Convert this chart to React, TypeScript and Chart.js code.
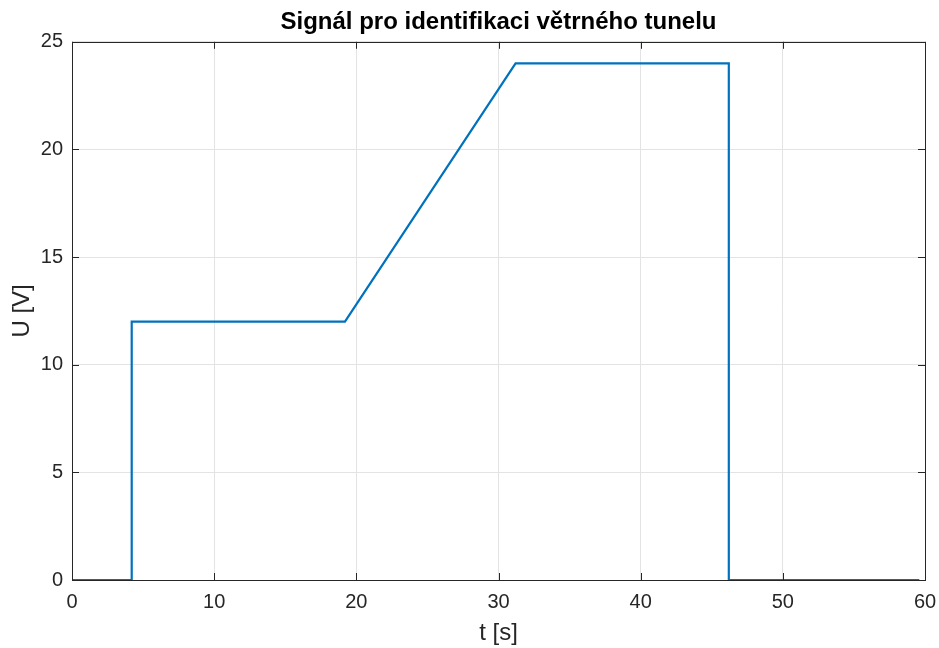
import React, { useEffect, useRef } from "react";
import { Chart, registerables } from "chart.js";

Chart.register(...registerables);

const TITLE = "Signál pro identifikaci větrného tunelu";
const X_LABEL = "t [s]";
const Y_LABEL = "U [V]";

// time (s) and voltage (V) of the signal breakpoints
const tValues = [0, 4.2, 4.2, 19.2, 31.2, 46.2, 46.2, 59.6];
const uValues = [0, 0, 12, 12, 24, 24, 0, 0];

const xTicks = [0, 10, 20, 30, 40, 50, 60];
const yTicks = [0, 5, 10, 15, 20, 25];

const AXIS_COLOR = "#262626";
const GRID_COLOR = "#e3e3e3";
const LINE_COLOR = "#0072BD";
const FONT = "'Liberation Sans', Arial, Helvetica, sans-serif";

const boxPlugin = {
  id: "matlabBox",
  afterDraw(chart: any) {
    const { ctx, chartArea } = chart;
    const { left, right, top, bottom } = chartArea;
    const xs = chart.scales.x;
    const ys = chart.scales.y;
    const tl = 7;
    ctx.save();
    ctx.strokeStyle = AXIS_COLOR;
    ctx.lineWidth = 1;
    ctx.beginPath();
    for (const v of xTicks) {
      const px = Math.round(xs.getPixelForValue(v)) + 0.5;
      ctx.moveTo(px, bottom);
      ctx.lineTo(px, bottom - tl);
      ctx.moveTo(px, top);
      ctx.lineTo(px, top + tl);
    }
    for (const v of yTicks) {
      const py = Math.round(ys.getPixelForValue(v)) + 0.5;
      ctx.moveTo(left, py);
      ctx.lineTo(left + tl, py);
      ctx.moveTo(right, py);
      ctx.lineTo(right - tl, py);
    }
    ctx.stroke();
    ctx.strokeRect(Math.round(left) + 0.5, Math.round(top) + 0.5, Math.round(right - left), Math.round(bottom - top));
    ctx.restore();
  },
};

export default function App() {
  const ref = useRef<HTMLCanvasElement | null>(null);

  useEffect(() => {
    if (!ref.current) return;
    const chart = new Chart(ref.current, {
      type: "line",
      data: {
        datasets: [
          {
            data: tValues.map((t, i) => ({ x: t, y: uValues[i] })),
            borderColor: LINE_COLOR,
            borderWidth: 2.2,
            pointRadius: 0,
            tension: 0,
            fill: false,
          },
        ],
      },
      options: {
        responsive: false,
        animation: false,
        layout: { padding: { left: 0, right: 14, top: 0, bottom: 0 } },
        plugins: {
          legend: { display: false },
          tooltip: { enabled: false },
          title: {
            display: true,
            text: TITLE,
            fullSize: false,
            color: "#000",
            font: { family: FONT, size: 24, weight: "bold", lineHeight: 1.2 },
            padding: { top: 8, bottom: 5 },
          },
        },
        scales: {
          x: {
            type: "linear",
            min: 0,
            max: 60,
            afterFit: (s: any) => {
              s.height = 68;
              s.paddingLeft = 0;
              s.paddingRight = 0;
            },
            afterBuildTicks: (s: any) => {
              s.ticks = xTicks.map((v) => ({ value: v }));
            },
            grid: { color: GRID_COLOR, drawTicks: false, lineWidth: 1 },
            border: { display: false },
            ticks: {
              color: AXIS_COLOR,
              font: { family: FONT, size: 20 },
              padding: 10,
              maxRotation: 0,
            },
            title: {
              display: true,
              text: X_LABEL,
              color: AXIS_COLOR,
              font: { family: FONT, size: 24, lineHeight: 1 },
              padding: { top: 0, bottom: 3 },
            },
          },
          y: {
            type: "linear",
            min: 0,
            max: 25,
            afterFit: (s: any) => {
              s.width = 72;
              s.paddingTop = 0;
              s.paddingBottom = 0;
            },
            afterBuildTicks: (s: any) => {
              s.ticks = yTicks.map((v) => ({ value: v }));
            },
            grid: { color: GRID_COLOR, drawTicks: false, lineWidth: 1 },
            border: { display: false },
            ticks: {
              color: AXIS_COLOR,
              font: { family: FONT, size: 20 },
              padding: 9,
            },
            title: {
              display: true,
              text: Y_LABEL,
              color: AXIS_COLOR,
              font: { family: FONT, size: 24, lineHeight: 1 },
              padding: { top: 10, bottom: 0 },
            },
          },
        },
      },
      plugins: [boxPlugin],
    } as any);
    return () => chart.destroy();
  }, []);

  return (
    <div style={{ position: "fixed", left: 0, top: 0, width: 939, height: 648, background: "#fff" }}>
      <canvas ref={ref} width={939} height={648} style={{ display: "block" }} />
    </div>
  );
}
